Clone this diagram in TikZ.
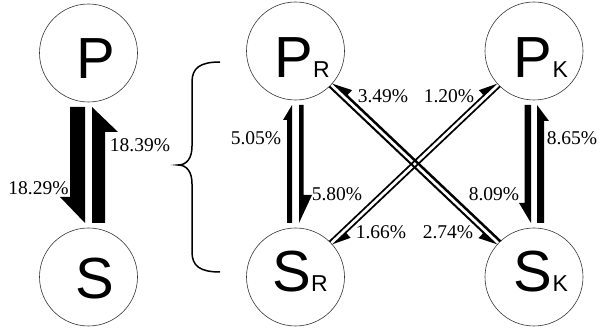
\documentclass[tikz,border=0pt]{standalone}
\usepackage{fontspec}
\setmainfont{Liberation Serif}
\newfontfamily\lettersf{Liberation Sans}
\usetikzlibrary{calc}
\newcommand\harparrow[7]{% from, to, inner, outer, flare, head length, distance from centres
  \path ($(#1)!#7!(#2)$) coordinate (hs) ($(#2)!#7!(#1)$) coordinate (he);
  \path ($(he)!#6!(hs)$) coordinate (hb);
  \fill ($(hs)!#3!90:(he)$) -- ($(hs)!#4!90:(he)$) -- ($(hb)!#4!90:(he)$)
        -- ($(hb)!#5!90:(he)$) -- ($(he)!#3!-90:(hs)$) -- cycle;
}
\tikzset{
  circ/.style={circle, draw=black!80, line width=0.6pt, minimum size=98pt, inner sep=0pt},
  big/.style={font=\lettersf\fontsize{58}{58}\selectfont, inner sep=0pt},
  pct/.style={font=\fontsize{19.5}{19.5}\selectfont, inner sep=0pt},
  bracestyle/.style={line width=1.5pt}
}
\newcommand\subl[1]{{\fontsize{23}{23}\selectfont #1}}
\begin{document}
\begin{tikzpicture}[x=1pt,y=-1pt]
\useasboundingbox (0,0) rectangle (600,328);
% circles
\node[circ] (P) at (88.5,53) {};
\node[circ] (S) at (88.5,277) {};
\node[circ] (PR) at (295.5,51) {};
\node[circ] (SR) at (295.5,277) {};
\node[circ] (PK) at (534,51) {};
\node[circ] (SK) at (534,277) {};
% letters
\node[big] (Pt) at (96,58.5) {P};
\node[big] (St) at (95,278.5) {S};
\node[big] (PRt) at (302,58) {P\subl{R}};
\node[big] (SRt) at (300,272) {S\subl{R}};
\node[big] (PKt) at (541,58) {P\subl{K}};
\node[big] (SKt) at (541,272) {S\subl{K}};
% vertical arrows
\harparrow{P}{S}{-3.5pt}{-18.5pt}{-28.5pt}{26pt}{54pt}
\harparrow{S}{P}{-3.5pt}{-16.5pt}{-29.5pt}{25pt}{54pt}
\harparrow{SR}{PR}{3.5pt}{8.5pt}{12.5pt}{15pt}{54pt}
\harparrow{PR}{SR}{3.5pt}{8pt}{16.5pt}{28pt}{54pt}
\harparrow{PK}{SK}{-3pt}{-9.5pt}{-15pt}{20pt}{54pt}
\harparrow{SK}{PK}{-3pt}{-10pt}{-15pt}{16pt}{54pt}
% diagonal arrows
\harparrow{SK}{PR}{-1.5pt}{-4pt}{-10.5pt}{19pt}{49pt}
\harparrow{PR}{SK}{-1.5pt}{-3.5pt}{-10pt}{18pt}{49pt}
\harparrow{SR}{PK}{1.5pt}{3.2pt}{9.5pt}{18pt}{49pt}
\harparrow{PK}{SR}{1.5pt}{3.2pt}{9.5pt}{18pt}{49pt}
% labels
\node[pct] (l1) at (38.5,188) {18.29\%};
\node[pct] (l2) at (140,145) {18.39\%};
\node[pct] (l3) at (256,138) {5.05\%};
\node[pct] (l4) at (337,194) {5.80\%};
\node[pct] (l5) at (383,96) {3.49\%};
\node[pct] (l6) at (449,96) {1.20\%};
\node[pct] (l7) at (572,138) {8.65\%};
\node[pct] (l8) at (494,194) {8.09\%};
\node[pct] (l9) at (381,232) {1.66\%};
\node[pct] (l10) at (448,232) {2.74\%};
% brace
\draw[bracestyle] (220,62) .. controls (200,62) and (192,68) .. (192,82) -- (192,146)
  .. controls (192,158) and (187,165) .. (178,165)
  .. controls (187,165) and (192,172) .. (192,184) -- (192,252)
  .. controls (192,266) and (200,272) .. (220,272);
\end{tikzpicture}
\end{document}
